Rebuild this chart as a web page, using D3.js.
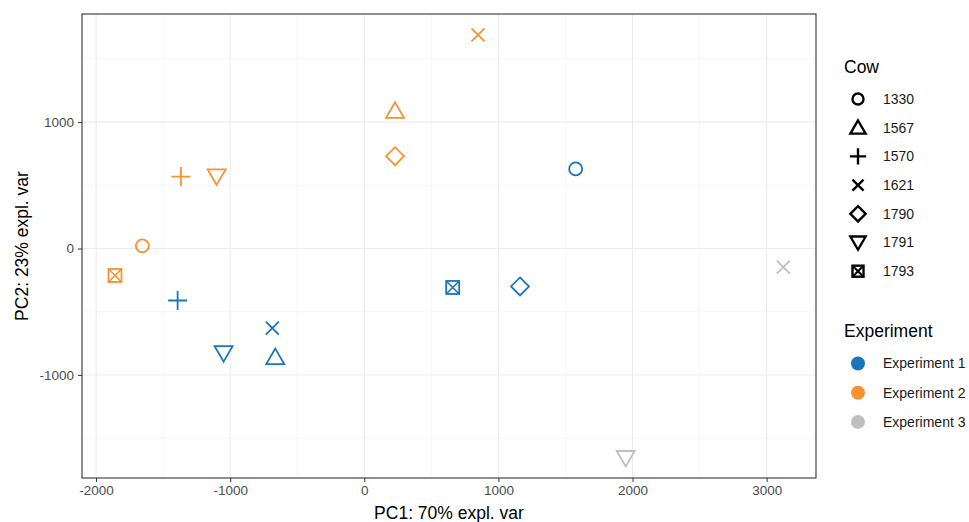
<!DOCTYPE html>
<html>
<head>
<meta charset="utf-8">
<script src="https://cdn.jsdelivr.net/npm/d3@7"></script>
<style>
  body { margin: 0; background: #fff; }
  text { font-family: "Liberation Sans", Arial, sans-serif; }
</style>
</head>
<body>
<script>
const width = 969, height = 522;

// data
const cows = ["1330", "1567", "1570", "1621", "1790", "1791", "1793"];
const experiments = ["Experiment 1", "Experiment 2", "Experiment 3"];
const expColors = ["#1b75bc", "#f7922e", "#bfbfbf"];

const pointCow = ["1621", "1567", "1790", "1570", "1791", "1330", "1793",
                  "1570", "1621", "1791", "1567", "1793", "1790", "1330",
                  "1621", "1791"];
const pointExp = ["Experiment 2", "Experiment 2", "Experiment 2", "Experiment 2", "Experiment 2", "Experiment 2", "Experiment 2",
                  "Experiment 1", "Experiment 1", "Experiment 1", "Experiment 1", "Experiment 1", "Experiment 1", "Experiment 1",
                  "Experiment 3", "Experiment 3"];
const pc1 = [848, 229, 229, -1367, -1101, -1655, -1859,
             -1392, -686, -1049, -664, 659, 1161, 1576,
             3124, 1949];
const pc2 = [1689, 1089, 730, 569, 571, 21, -213,
             -411, -629, -827, -859, -308, -300, 630,
             -147, -1657];

const xTicks = [-2000, -1000, 0, 1000, 2000, 3000];
const yTicks = [-1000, 0, 1000];

const margin = {left: 82, top: 14, right: 816, bottom: 478};

const x = d3.scaleLinear().domain([-2105, 3368]).range([margin.left, margin.right]);
const y = d3.scaleLinear().domain([-1815, 1855]).range([margin.bottom, margin.top]);
const color = d3.scaleOrdinal().domain(experiments).range(expColors);

const svg = d3.select("body").append("svg")
  .attr("width", width)
  .attr("height", height);

// grid
const grid = svg.append("g");
const minorX = d3.range(-2500, 3500, 1000).filter(v => v > x.domain()[0] && v < x.domain()[1]);
const minorY = d3.range(-1500, 2000, 1000).filter(v => v > y.domain()[0] && v < y.domain()[1]);
grid.selectAll(".mx").data(minorX).enter().append("line")
  .attr("x1", d => x(d)).attr("x2", d => x(d))
  .attr("y1", margin.top).attr("y2", margin.bottom)
  .attr("stroke", "#f0f0f0").attr("stroke-width", 0.6);
grid.selectAll(".my").data(minorY).enter().append("line")
  .attr("y1", d => y(d)).attr("y2", d => y(d))
  .attr("x1", margin.left).attr("x2", margin.right)
  .attr("stroke", "#f0f0f0").attr("stroke-width", 0.6);
grid.selectAll(".gx").data(xTicks).enter().append("line")
  .attr("x1", d => x(d)).attr("x2", d => x(d))
  .attr("y1", margin.top).attr("y2", margin.bottom)
  .attr("stroke", "#ebebeb").attr("stroke-width", 1.1);
grid.selectAll(".gy").data(yTicks).enter().append("line")
  .attr("y1", d => y(d)).attr("y2", d => y(d))
  .attr("x1", margin.left).attr("x2", margin.right)
  .attr("stroke", "#ebebeb").attr("stroke-width", 1.1);

// axes
const fmt = d => String(d);
const xAxis = svg.append("g")
  .attr("transform", `translate(0,${margin.bottom})`)
  .call(d3.axisBottom(x).tickValues(xTicks).tickFormat(fmt).tickSize(4).tickPadding(3));
const yAxis = svg.append("g")
  .attr("transform", `translate(${margin.left},0)`)
  .call(d3.axisLeft(y).tickValues(yTicks).tickFormat(fmt).tickSize(4).tickPadding(4));
[xAxis, yAxis].forEach(a => {
  a.select(".domain").remove();
  a.selectAll(".tick line").attr("stroke", "#333");
  a.selectAll(".tick text").attr("fill", "#4d4d4d").style("font-size", "13.5px");
});

// panel border
svg.append("rect")
  .attr("x", margin.left).attr("y", margin.top)
  .attr("width", margin.right - margin.left)
  .attr("height", margin.bottom - margin.top)
  .attr("fill", "none").attr("stroke", "#333").attr("stroke-width", 1.1);

// axis titles
svg.append("text")
  .attr("x", (margin.left + margin.right) / 2).attr("y", 519)
  .attr("text-anchor", "middle").style("font-size", "17.5px")
  .text("PC1: 70% expl. var");
svg.append("text")
  .attr("transform", `translate(28,${(margin.top + margin.bottom) / 2}) rotate(-90)`)
  .attr("text-anchor", "middle").style("font-size", "17.5px")
  .text("PC2: 23% expl. var");

// shapes
function drawShape(g, cow, stroke, sw) {
  const a = g.append("g").attr("fill", "none").attr("stroke", stroke).attr("stroke-width", sw);
  if (cow === "1330") {
    a.append("circle").attr("r", 6.5);
  } else if (cow === "1567") {
    a.append("path").attr("d", "M0,-8.5 L9,7 L-9,7 Z").attr("stroke-linejoin", "miter");
  } else if (cow === "1570") {
    a.append("path").attr("d", "M-9.5,0 H9.5 M0,-9.5 V9.5");
  } else if (cow === "1621") {
    a.append("path").attr("d", "M-6.5,-6.5 L6.5,6.5 M-6.5,6.5 L6.5,-6.5");
  } else if (cow === "1790") {
    a.append("path").attr("d", "M0,-9 L9,0 L0,9 L-9,0 Z");
  } else if (cow === "1791") {
    a.append("path").attr("d", "M0,8.5 L9,-7 L-9,-7 Z");
  } else if (cow === "1793") {
    a.append("rect").attr("x", -6.5).attr("y", -6.5).attr("width", 13).attr("height", 13);
    a.append("path").attr("d", "M-6.5,-6.5 L6.5,6.5 M-6.5,6.5 L6.5,-6.5").attr("stroke-width", sw * 0.9);
  }
}

const pts = pc1.map((v, i) => ({pc1: v, pc2: pc2[i], cow: pointCow[i], exp: pointExp[i]}));
const pg = svg.append("g");
pts.forEach(d => {
  const g = pg.append("g").attr("transform", `translate(${x(d.pc1)},${y(d.pc2)})`);
  drawShape(g, d.cow, color(d.exp), 1.8);
});

// legend: Cow
const leg = svg.append("g");
leg.append("text").attr("x", 844).attr("y", 73)
  .style("font-size", "17.5px").text("Cow");
cows.forEach((c, i) => {
  const cy = 99 + i * 28.7;
  const g = leg.append("g").attr("transform", `translate(858,${cy}) scale(0.85)`);
  drawShape(g, c, "#000", 2.8);
  leg.append("text").attr("x", 883).attr("y", cy).attr("dy", "0.35em")
    .style("font-size", "14px").attr("fill", "#1a1a1a").text(c);
});

// legend: Experiment
leg.append("text").attr("x", 844).attr("y", 337)
  .style("font-size", "17.5px").text("Experiment");
experiments.forEach((e, i) => {
  const cy = 363.5 + i * 29.2;
  leg.append("circle").attr("cx", 858).attr("cy", cy).attr("r", 7)
    .attr("fill", color(e));
  leg.append("text").attr("x", 883).attr("y", cy).attr("dy", "0.35em")
    .style("font-size", "14px").attr("fill", "#1a1a1a").text(e);
});
</script>
</body>
</html>
